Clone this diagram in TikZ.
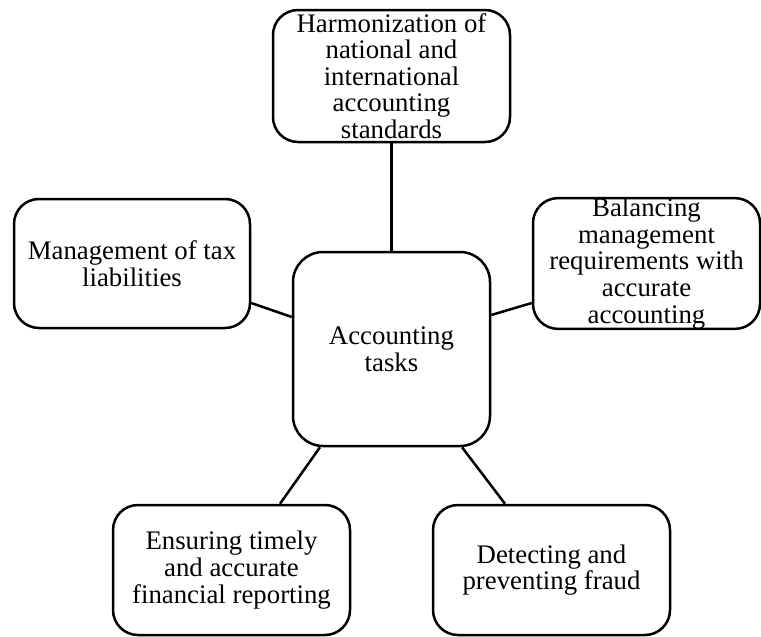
\documentclass[tikz,border=0pt]{standalone}
\usepackage{fontspec}
\setmainfont{Liberation Serif}
\tikzset{
  box/.style={draw=black, line width=2.5pt, rectangle, rounded corners=25pt, inner sep=0pt,
    align=center, font=\fontsize{26.8}{26.6}\selectfont},
  link/.style={draw=black, line width=2.5pt}
}
\begin{document}
\begin{tikzpicture}[x=1pt,y=-1pt]
\useasboundingbox (0,0) rectangle (761,637);
\node[box, minimum width=237pt, minimum height=132pt] (top) at (391.5,76)
  {Harmonization of\\national and\\international\\accounting\\standards};
\node[box, minimum width=236pt, minimum height=129pt] (left) at (132,263.5)
  {Management of tax\\liabilities};
\node[box, minimum width=227pt, minimum height=129pt] (right) at (646.5,263.5)
  {Balancing\\management\\requirements with\\accurate\\accounting};
\node[box, rounded corners=30pt, minimum width=197pt, minimum height=194pt] (c) at (391.5,349)
  {Accounting\\tasks};
\node[box, minimum width=237pt, minimum height=130pt] (bl) at (231.5,570)
  {Ensuring timely\\and accurate\\financial reporting};
\node[box, minimum width=237pt, minimum height=130pt] (br) at (551.5,570)
  {Detecting and\\preventing fraud};
\draw[link] (top.south) -- (c.north);
\draw[link] ([yshift=-39.5pt]left.east) -- ([yshift=32pt]c.west);
\draw[link] ([yshift=34pt]c.east) -- ([yshift=-39.5pt]right.west);
\draw[link] ([xshift=-71.5pt]c.south) -- ([xshift=48.5pt]bl.north);
\draw[link] ([xshift=70.5pt]c.south) -- ([xshift=-46.5pt]br.north);
\end{tikzpicture}
\end{document}
